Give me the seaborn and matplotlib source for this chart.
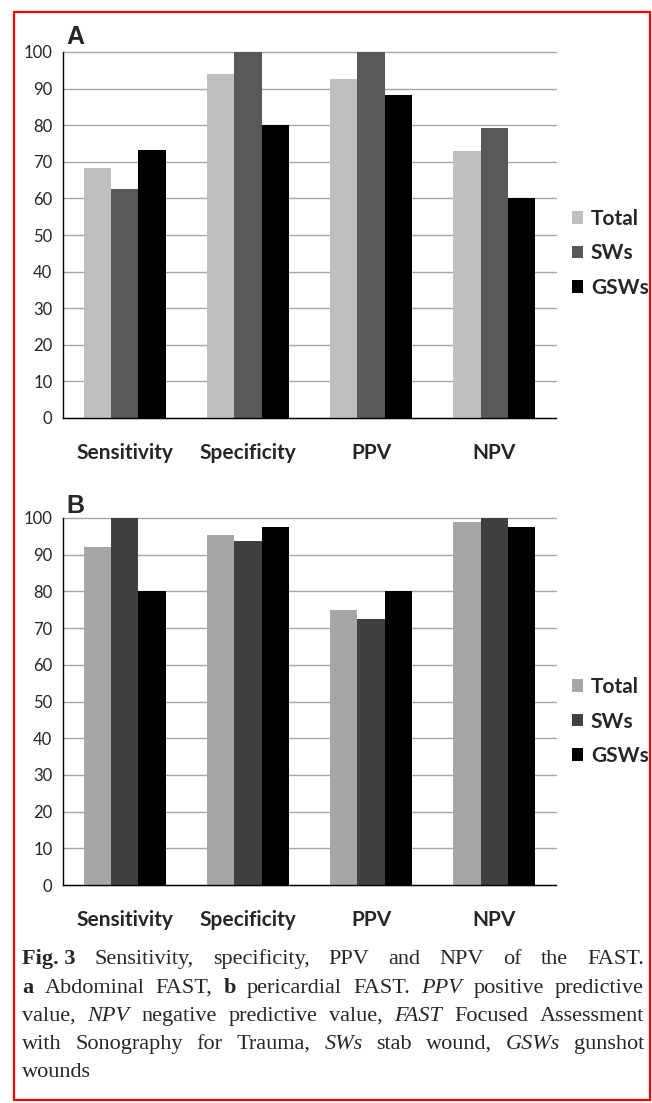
import matplotlib
matplotlib.use("Agg")
import matplotlib.pyplot as plt
import pandas as pd
import seaborn as sns
from matplotlib.patches import Rectangle

# categories and series
metrics = ["Sensitivity", "Specificity", "PPV", "NPV"]
groups = ["Total", "SWs", "GSWs"]

# A: abdominal FAST
abd_total = [68.4, 93.9, 92.5, 72.9]
abd_sws = [62.5, 100, 100, 79.2]
abd_gsws = [73.3, 80, 88.2, 60]

# B: pericardial FAST
peri_total = [92.1, 95.5, 75, 98.9]
peri_sws = [100, 93.8, 72.4, 100]
peri_gsws = [80, 97.5, 80, 97.5]

colors_a = ["#BFBFBF", "#595959", "#000000"]
colors_b = ["#A6A6A6", "#404040", "#000000"]

caption_lines = [
    "!Fig.~3 Sensitivity, specificity, PPV and NPV of the FAST.",
    "!a Abdominal FAST, !b pericardial FAST. /PPV positive predictive",
    "value, /NPV negative predictive value, /FAST Focused Assessment",
    "with Sonography for Trauma, /SWs stab wound, /GSWs gunshot",
    "wounds",
]

sns.set_style("white")
plt.rcParams["font.family"] = ["Lato", "DejaVu Sans"]

W, H = 652, 1103
fig = plt.figure(figsize=(W / 100, H / 100), dpi=100)


def box(left, top, right, bottom):
    # pixel box -> figure fraction
    return [left / W, 1 - bottom / H, (right - left) / W, (bottom - top) / H]


def draw_panel(ax, total, sws, gsws, colors, leg_y):
    df = pd.DataFrame({
        "metric": metrics * 3,
        "group": [g for g in groups for _ in metrics],
        "value": total + sws + gsws,
    })
    sns.barplot(data=df, x="metric", y="value", hue="group", palette=colors,
                width=0.667, saturation=1, errorbar=None, linewidth=0, ax=ax)
    ax.set_xlim(-0.5, 3.5)
    ax.set_ylim(0, 100)
    ax.set_yticks(range(0, 101, 10))
    ax.set_xlabel("")
    ax.set_ylabel("")
    ax.yaxis.grid(True, color="#A6A6A6", lw=1)
    for line in ax.get_ygridlines():
        line.set_clip_on(False)
    ax.set_axisbelow(True)
    for side in ["top", "right"]:
        ax.spines[side].set_visible(False)
    for side in ["left", "bottom"]:
        ax.spines[side].set_color("black")
        ax.spines[side].set_linewidth(1)
    ax.tick_params(axis="y", length=3.6, width=1, color="black", pad=4, labelsize=12)
    ax.set_xticks([-0.5, 0.5, 1.5, 2.5, 3.5], minor=True)
    ax.tick_params(axis="x", which="minor", length=4.3, width=1, color="black", direction="out")
    ax.tick_params(axis="x", which="major", length=0, pad=18, labelsize=15)
    for lab in ax.get_xticklabels():
        lab.set_fontweight("bold")
    sns.move_legend(ax, "center left", bbox_to_anchor=(1.0325, leg_y), frameon=False,
                    title="", prop={"weight": "bold", "size": 15},
                    handlelength=0.55, handleheight=0.55, handletextpad=0.35,
                    labelspacing=0.7, borderpad=0, borderaxespad=0)


ax_a = fig.add_axes(box(63, 52, 556, 418))
ax_b = fig.add_axes(box(63, 518, 556, 885))
draw_panel(ax_a, abd_total, abd_sws, abd_gsws, colors_a, 0.4495)
draw_panel(ax_b, peri_total, peri_sws, peri_gsws, colors_b, 0.4455)

fig.text(66 / W, 1 - 44 / H, "A", fontsize=18, weight="bold", family="Liberation Sans", va="baseline")
fig.text(66 / W, 1 - 513 / H, "B", fontsize=18, weight="bold", family="Liberation Sans", va="baseline")

# red frame
fig.add_artist(Rectangle((14 / W, 1 - 1100 / H), (650 - 14) / W, (1100 - 12) / H,
                         transform=fig.transFigure, fill=False, edgecolor="red", lw=1.6))

# justified caption
renderer = fig.canvas.get_renderer()
cap_fs = 16
cap_left, cap_right = 22, 644
baselines = [964, 993, 1021, 1049, 1077]
for i, line in enumerate(caption_lines):
    words = []
    for tok in line.split(" "):
        kw = {}
        if tok.startswith("!"):
            tok, kw = tok[1:], {"weight": "bold"}
        elif tok.startswith("/"):
            tok, kw = tok[1:], {"style": "italic"}
        words.append(fig.text(0, 1 - baselines[i] / H, tok.replace("~", " "), fontsize=cap_fs,
                              family="Liberation Serif", va="baseline", **kw))
    widths = [t.get_window_extent(renderer).width for t in words]
    if i < len(caption_lines) - 1 and len(words) > 1:
        gap = (cap_right - cap_left - sum(widths)) / (len(words) - 1)
    else:
        gap = 0.25 * cap_fs * 100 / 72
    x = cap_left
    for t, wd in zip(words, widths):
        t.set_x(x / W)
        x += wd + gap

fig.savefig("out.png", dpi=100)
